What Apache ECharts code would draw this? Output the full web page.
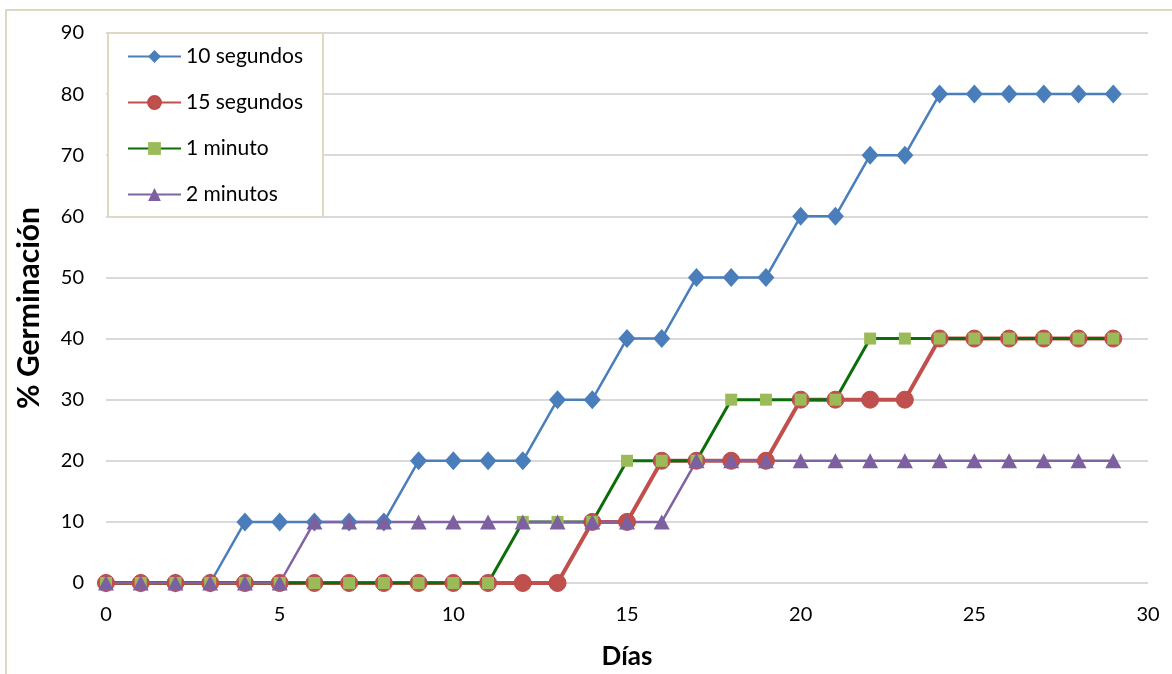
<!DOCTYPE html>
<html>
<head>
<meta charset="utf-8">
<script src="https://cdn.jsdelivr.net/npm/echarts@6/dist/echarts.min.js"></script>
<style>
  html, body { margin: 0; padding: 0; background: #fff; }
  #chart { width: 1172px; height: 674px; }
</style>
</head>
<body>
<div id="chart"></div>
<script>
// Germination over time for four treatment durations
const days = [0, 1, 2, 3, 4, 5, 6, 7, 8, 9, 10, 11, 12, 13, 14, 15, 16, 17, 18, 19, 20, 21, 22, 23, 24, 25, 26, 27, 28, 29];
const seg10 = [0, 0, 0, 0, 10, 10, 10, 10, 10, 20, 20, 20, 20, 30, 30, 40, 40, 50, 50, 50, 60, 60, 70, 70, 80, 80, 80, 80, 80, 80];
const seg15 = [0, 0, 0, 0, 0, 0, 0, 0, 0, 0, 0, 0, 0, 0, 10, 10, 20, 20, 20, 20, 30, 30, 30, 30, 40, 40, 40, 40, 40, 40];
const min1  = [0, 0, 0, 0, 0, 0, 0, 0, 0, 0, 0, 0, 10, 10, 10, 20, 20, 20, 30, 30, 30, 30, 40, 40, 40, 40, 40, 40, 40, 40];
const min2  = [0, 0, 0, 0, 0, 0, 10, 10, 10, 10, 10, 10, 10, 10, 10, 10, 10, 20, 20, 20, 20, 20, 20, 20, 20, 20, 20, 20, 20, 20];
const seriesNames = ['10 segundos', '15 segundos', '1 minuto', '2 minutos'];
const xTicks = { min: 0, max: 30, interval: 5 };
const yTicks = { min: 0, max: 90, interval: 10 };

const FONT = 'Lato';
const pairs = vals => days.map((d, i) => [d, vals[i]]);

const chart = echarts.init(document.getElementById('chart'));
chart.setOption({
  backgroundColor: '#fff',
  animation: false,
  textStyle: { fontFamily: FONT },
  graphic: [{
    type: 'rect',
    shape: { x: 6, y: 10, width: 1200, height: 700 },
    style: { fill: 'none', stroke: '#DDD9C3', lineWidth: 2 },
    z: -1
  }],
  grid: { left: 106, right: 24, top: 33, bottom: 91, outerBoundsMode: 'none' },
  xAxis: {
    type: 'value',
    min: xTicks.min, max: xTicks.max, interval: xTicks.interval,
    name: 'Días',
    nameLocation: 'middle',
    nameGap: 61,
    nameTextStyle: { fontFamily: FONT, fontSize: 26, fontWeight: 'bold', color: '#000' },
    axisLine: { show: false },
    axisTick: { show: false },
    splitLine: { show: false },
    axisLabel: { color: '#000', fontSize: 20, margin: 22, fontFamily: FONT }
  },
  yAxis: {
    type: 'value',
    min: yTicks.min, max: yTicks.max, interval: yTicks.interval,
    name: '% Germinación',
    nameLocation: 'middle',
    nameGap: 62,
    nameTextStyle: { fontFamily: FONT, fontSize: 30, fontWeight: 'bold', color: '#000' },
    axisLine: { show: false },
    axisTick: { show: false },
    splitLine: { show: true, lineStyle: { color: '#D9D9D9', width: 2 } },
    axisLabel: { color: '#000', fontSize: 20, margin: 22, fontFamily: FONT }
  },
  legend: {
    orient: 'vertical',
    left: 108,
    top: 33,
    padding: [13, 20, 12, 19],
    itemGap: 25,
    itemWidth: 53,
    itemHeight: 16,
    backgroundColor: '#fff',
    borderColor: '#DDD9C3',
    borderWidth: 2,
    textStyle: { fontFamily: FONT, fontSize: 21, color: '#000', lineHeight: 20 },
    data: seriesNames
  },
  series: [
    {
      name: seriesNames[0], type: 'line', data: pairs(seg10),
      symbol: 'diamond', symbolSize: [17, 19],
      lineStyle: { color: '#4A7EBB', width: 2.5 },
      itemStyle: { color: '#4A7EBB' }
    },
    {
      name: seriesNames[1], type: 'line', data: pairs(seg15),
      symbol: 'circle', symbolSize: 17,
      lineStyle: { color: '#C0504D', width: 4 },
      itemStyle: { color: '#C0504D', borderColor: '#BE4B48', borderWidth: 1 }
    },
    {
      name: seriesNames[2], type: 'line', data: pairs(min1),
      symbol: 'rect', symbolSize: 12,
      lineStyle: { color: '#0B6E0B', width: 3 },
      itemStyle: { color: '#9BBB59' }
    },
    {
      name: seriesNames[3], type: 'line', data: pairs(min2),
      symbol: 'triangle', symbolSize: [16, 15],
      lineStyle: { color: '#8064A2', width: 2.5 },
      itemStyle: { color: '#7D60A0' }
    }
  ]
});
</script>
</body>
</html>
